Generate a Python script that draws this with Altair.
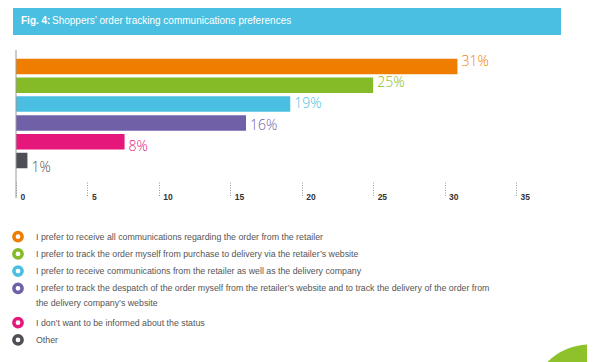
import altair as alt
import pandas as pd

title_bold = "Fig. 4:"
title_rest = "Shoppers’ order tracking communications preferences"

categories = [
    "I prefer to receive all communications regarding the order from the retailer",
    "I prefer to track the order myself from purchase to delivery via the retailer’s website",
    "I prefer to receive communications from the retailer as well as the delivery company",
    "I prefer to track the despatch of the order myself from the retailer’s website and to track the delivery of the order from the delivery company’s website",
    "I don’t want to be informed about the status",
    "Other",
]
legend_text = [
    "I prefer to receive all communications regarding the order from the retailer",
    "I prefer to track the order myself from purchase to delivery via the retailer’s website",
    "I prefer to receive communications from the retailer as well as the delivery company",
    "I prefer to track the despatch of the order myself from the retailer’s website and to track the delivery of the order from\nthe delivery company’s website",
    "I don’t want to be informed about the status",
    "Other",
]
values = [30.9, 25.0, 19.2, 16.1, 7.6, 0.8]
colors = ["#EE7D00", "#84BB26", "#4BBFE1", "#7060A8", "#E6177A", "#4E4F54"]
x_ticks = [0, 5, 10, 15, 20, 25, 30, 35]

SANS = "Liberation Sans, Arial, sans-serif"

# legend row index derived from the number of text lines of preceding entries
n_lines = [len(t.split("\n")) for t in legend_text]
line_idx = [sum(n_lines[:i]) for i in range(len(n_lines))]

df = pd.DataFrame({
    "category": categories,
    "legend": legend_text,
    "value": values,
    "line": line_idx,
})

color = alt.Color("category:N", scale=alt.Scale(domain=categories, range=colors), legend=None)
ycat = alt.Y("category:N", sort=categories, axis=None,
             scale=alt.Scale(paddingInner=0.175, paddingOuter=0.465))

base = alt.Chart(df)

bars = base.mark_bar().encode(
    x=alt.X("value:Q", scale=alt.Scale(domain=[0, 35], nice=False),
            axis=alt.Axis(values=x_ticks, title=None, domain=False, grid=False,
                          offset=5, tickSize=15, tickDash=[1, 1.5], tickColor="#9a9a9a",
                          labelAlign="left", labelBaseline="top", labelOffset=4, labelPadding=-5,
                          labelFontSize=8.5, labelFontWeight="bold", labelColor="#333333",
                          labelFont=SANS)),
    y=ycat,
    color=color,
)

bar_labels = base.transform_calculate(
    lbl="format(datum.value, '.0f') + '%'"
).mark_text(align="left", baseline="middle", dx=4, dy=1.5, fontSize=14,
            font="Open Sans, Liberation Sans, sans-serif", fontWeight=300).encode(
    x="value:Q",
    y=ycat,
    color=color,
    text="lbl:N",
)

one = pd.DataFrame({"t": [title_rest], "b": [title_bold]})

axis_line = alt.Chart(one).mark_rule(color="#9a9a9a", strokeWidth=1).encode(
    x=alt.value(0), y=alt.value(0), y2=alt.value(148)
)

banner = alt.Chart(one).mark_rect(color="#4BBFE1").encode(
    x=alt.value(-3), x2=alt.value(545), y=alt.value(-42), y2=alt.value(-15)
)
banner_bold = alt.Chart(one).mark_text(
    align="left", baseline="middle", color="white", fontSize=10, fontWeight="bold", font=SANS
).encode(x=alt.value(5), y=alt.value(-29), text="b:N")
banner_text = alt.Chart(one).mark_text(
    align="left", baseline="middle", color="white", fontSize=10, font=SANS
).encode(x=alt.value(36), y=alt.value(-29), text="t:N")

# decorative green disc in the bottom-right corner (symbol size = diameter squared)
deco = alt.Chart(one).mark_circle(color="#8DC22B", opacity=1, size=121 * 121).encode(
    x=alt.value(574), y=alt.value(355)
)

yline = alt.Y("line:Q", axis=None, scale=alt.Scale(domain=[0, 6], range=[186.7, 289.9]))

leg_sym = base.mark_point(shape="circle", filled=False, strokeWidth=3.5, size=68, opacity=1).encode(
    x=alt.value(2), y=yline, color=color
)
leg_txt = base.mark_text(
    align="left", baseline="top", dy=-4, lineBreak="\n", lineHeight=15,
    fontSize=8.8, color="#555555", font=SANS
).encode(x=alt.value(20), y=yline, text="legend:N")

chart = alt.layer(
    banner, banner_bold, banner_text, deco, bars, bar_labels, axis_line, leg_sym, leg_txt
).resolve_scale(y="independent").properties(
    width=500, height=127,
    autosize=alt.AutoSizeParams(type="none"),
    padding={"left": 8, "top": 42, "right": 71, "bottom": 185},
).configure_view(stroke=None)

chart.save("out.html", embed_options={"renderer": "svg", "actions": False})
